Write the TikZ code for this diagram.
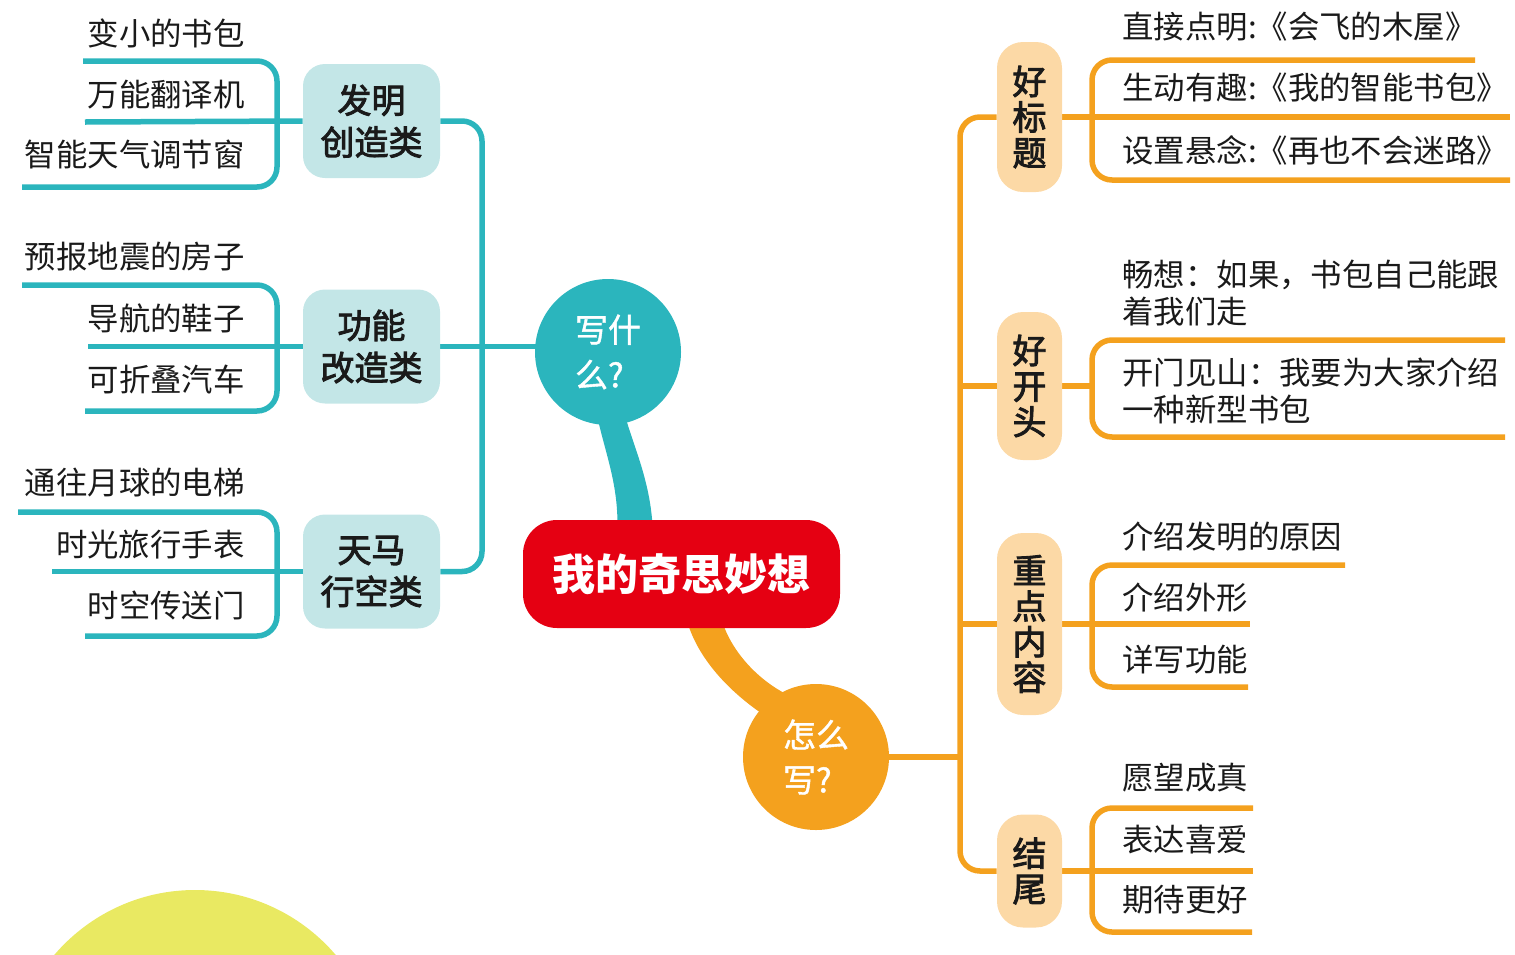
\documentclass[tikz,border=0pt]{standalone}
\usepackage{fontspec}
\setmainfont{Noto Sans CJK SC}
\newfontfamily\catfont[FakeBold=2.6]{Noto Sans CJK SC}
\newfontfamily\bubfont[FakeBold=1.2]{Noto Sans CJK SC}
\usetikzlibrary{calc,backgrounds}
\definecolor{teal1}{HTML}{2BB5BD}
\definecolor{tealbox}{HTML}{C3E6E7}
\definecolor{org}{HTML}{F4A11E}
\definecolor{orgbox}{HTML}{FCD9A6}
\definecolor{cred}{HTML}{E50012}
\definecolor{ylw}{HTML}{E9E962}
\definecolor{txt}{HTML}{1A1A1A}
\begin{document}
\begin{tikzpicture}[x=0.5pt,y=-0.5pt,
  leaf/.style={inner sep=0pt, font=\fontsize{15.7}{18.5}\selectfont, text=txt},
  lleaf/.style={leaf, anchor=east},
  rleaf/.style={leaf, anchor=west, align=left},
  tline/.style={draw=teal1, line width=2.75pt, rounded corners=10pt},
  oline/.style={draw=org, line width=2.75pt, rounded corners=10pt},
  tbox/.style={fill=tealbox, rounded corners=11pt, minimum width=68.5pt, minimum height=57pt, align=center, font=\catfont\fontsize{17}{21}\selectfont, text=txt, inner sep=0pt},
  obox/.style={fill=orgbox, rounded corners=13pt, minimum width=32.5pt, align=center, font=\catfont\fontsize{17}{17.8}\selectfont, text=txt, inner sep=0pt},
  bubble/.style={circle, minimum size=73pt, inner sep=0pt, align=left, text=white, font=\bubfont\fontsize{16.5}{22.5}\selectfont},
]
\useasboundingbox (0,0) rectangle (1515,954);
\clip (0,0) rectangle (1515,954);

% central node and bubbles
\node[fill=cred, rounded corners=17pt, minimum width=158.5pt, minimum height=54pt, inner sep=0pt, text=white, font=\fontsize{21.5}{24}\selectfont\bfseries] (c) at (681.5,574) {我的奇思妙想};
\node[bubble, fill=teal1] (wsm) at (608,352) {写什\\么?};
\node[bubble, fill=org] (zmx) at (816,757) {怎么\\写?};

% left category boxes
\node[tbox] (g1) at (371.5,121) {发明\\创造类};
\node[tbox] (g2) at (371.5,346.5) {功能\\改造类};
\node[tbox] (g3) at (371.5,571.5) {天马\\行空类};

% right category boxes
\node[obox, minimum height=75pt] (b1) at (1029.5,117) {好\\标\\题};
\node[obox, minimum height=74pt] (b2) at (1029.5,386) {好\\开\\头};
\node[obox, minimum height=91pt] (b3) at (1029.5,624) {重\\点\\内\\容};
\node[obox, minimum height=56.5pt] (b4) at (1029.5,871) {结\\尾};

% left leaves
\node[lleaf] (l11) at (245,33) {变小的书包};
\node[lleaf] (l12) at (245,95) {万能翻译机};
\node[lleaf] (l13) at (245,155) {智能天气调节窗};
\node[lleaf] (l21) at (245,257) {预报地震的房子};
\node[lleaf] (l22) at (245,318) {导航的鞋子};
\node[lleaf] (l23) at (245,380) {可折叠汽车};
\node[lleaf] (l31) at (245,483) {通往月球的电梯};
\node[lleaf] (l32) at (245,545) {时光旅行手表};
\node[lleaf] (l33) at (245,605) {时空传送门};

% right leaves
\node[rleaf] (r11) at (1122,27) {直接点明:《会飞的木屋》};
\node[rleaf] (r12) at (1122,88) {生动有趣:《我的智能书包》};
\node[rleaf] (r13) at (1122,150) {设置悬念:《再也不会迷路》};
\node[rleaf] (r21) at (1122,293) {畅想：如果，书包自己能跟\\着我们走};
\node[rleaf] (r22) at (1122,391) {开门见山：我要为大家介绍\\一种新型书包};
\node[rleaf] (r31) at (1122,537) {介绍发明的原因};
\node[rleaf] (r32) at (1122,598) {介绍外形};
\node[rleaf] (r33) at (1122,660) {详写功能};
\node[rleaf] (r41) at (1122,778) {愿望成真};
\node[rleaf] (r42) at (1122,840) {表达喜爱};
\node[rleaf] (r43) at (1122,900) {期待更好};

\coordinate (lv) at (277,0);
\coordinate (tv) at (482,0);
\coordinate (ov) at (960,0);
\coordinate (rv) at (1092,0);

\begin{scope}[on background layer]
  \fill[ylw] (195,1075) circle[radius=92.5pt];
  % stems
  \fill[teal1] ($(wsm.south)+(-12,-15)$) .. controls +(8,40) and +(0,-45) .. ($(c.north)+(-64,5)$)
     -- ($(c.north)+(-29,5)$) .. controls +(-3,-45) and +(10,35) .. ($(wsm.south)+(16,-13)$) -- cycle;
  \fill[org] ($(c.south)+(6,-6)$) .. controls +(12,40) and +(-30,-20) .. ($(zmx.center)+(-52,-42)$)
     -- ($(zmx.center)+(-28,-62)$) .. controls +(-30,-15) and +(10,30) .. ($(c.south)+(41,-6)$) -- cycle;

  % left connectors
  \draw[tline] (g1.east) -- (g1.east -| tv) -- (g3.east -| tv) -- (g3.east);
  \draw[tline] (g2.east) -- (wsm.center |- g2.east);
  \draw[tline] (83,61) -- (277,61) -- (277,187) -- (22,187);
  \draw[tline] (85,122) -- (g1.west);
  \draw[tline] (22,285) -- (277,285) -- (277,411) -- (85,411);
  \draw[tline] (88,346.5) -- (g2.west);
  \draw[tline] (18,512) -- (277,512) -- (277,636) -- (85,636);
  \draw[tline] (52,571.5) -- (g3.west);

  % right connectors
  \draw[oline] (b1.west) -- (b1.west -| ov) -- (b4.west -| ov) -- (b4.west);
  \draw[oline] (b2.west) -- (b2.west -| ov);
  \draw[oline] (b3.west) -- (b3.west -| ov);
  \draw[oline] (zmx.center) -- (zmx.center -| ov);

  \draw[oline] (1475,60) -- (1092,60) -- (1092,180) -- (1510,180);
  \draw[oline] (b1.east) -- (1510,117);
  \draw[oline] (1505,340) -- (1092,340) -- (1092,437) -- (1505,437);
  \draw[oline] (b2.east) -- (b2.east -| rv);
  \draw[oline] (1345,565) -- (1092,565) -- (1092,687) -- (1248,687);
  \draw[oline] (b3.east) -- (1250,624);
  \draw[oline] (1253,808) -- (1092,808) -- (1092,932) -- (1252,932);
  \draw[oline] (b4.east) -- (1253,871);
\end{scope}
\end{tikzpicture}
\end{document}
